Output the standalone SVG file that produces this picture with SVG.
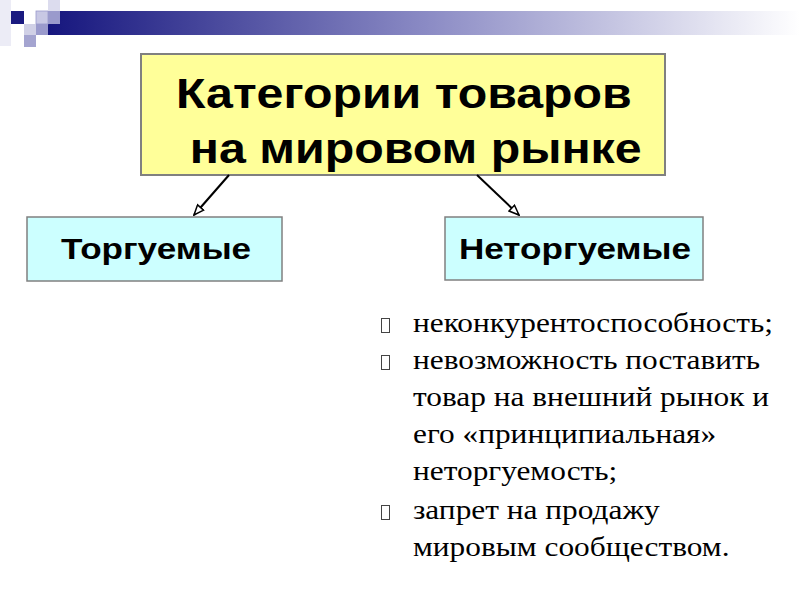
<svg xmlns="http://www.w3.org/2000/svg" width="800" height="600" viewBox="0 0 800 600">
<defs>
<linearGradient id="bar" x1="0" y1="0" x2="1" y2="0">
<stop offset="0" stop-color="#16167e"/>
<stop offset="0.5" stop-color="#8a8ac4"/>
<stop offset="1" stop-color="#ffffff"/>
</linearGradient>
<marker id="arr" viewBox="0 0 12 10" refX="11" refY="5" markerWidth="12" markerHeight="10" markerUnits="userSpaceOnUse" orient="auto">
<path d="M1,1 L11,5 L1,9 Z" fill="#ffffff" stroke="#000" stroke-width="1.5"/>
</marker>
<style>
.h{font-family:"Liberation Sans",Arial,sans-serif;font-weight:bold;fill:#000}
.b{font-family:"Liberation Serif","Times New Roman",serif;font-size:28px;fill:#000}
.tofu{fill:none;stroke:#444;stroke-width:1}
.conn{stroke:#000;stroke-width:2;fill:none}
</style>
</defs>
<rect width="800" height="600" fill="#fff"/>
<g id="decor">
<rect x="48" y="11" width="752" height="24" fill="url(#bar)"/>
<rect x="0" y="0" width="11" height="46" fill="#ececf6"/>
<rect x="11" y="11" width="13" height="13" fill="#1a1a80"/>
<rect x="36" y="11" width="12" height="13" fill="#c8c8e4" stroke="#9a9acc" stroke-width="0.8"/>
<rect x="48" y="0" width="12" height="11" fill="#dcdcee"/>
<rect x="48" y="11" width="12" height="13" fill="#9a9acc"/>
<rect x="24" y="24" width="12" height="11" fill="#d0d0e6"/>
<rect x="36" y="24" width="12" height="11" fill="#9a9acc"/>
<rect x="24" y="35" width="12" height="12" fill="#a4a4d0"/>
</g>
<g id="main">
<rect x="141" y="54" width="524" height="121" fill="#ffff99" stroke="#808080" stroke-width="2"/>
<g transform="translate(176,0) scale(1.15,1) translate(-176,0)">
<text class="h" x="176" y="108" font-size="42">Категории товаров</text>
<text class="h" x="188" y="163" font-size="42">на мировом рынке</text>
</g>
</g>
<g id="tradable">
<rect x="27" y="217" width="255" height="64" fill="#ccffff" stroke="#808080" stroke-width="1.5"/>
<text class="h" x="0" y="0" font-size="30" text-anchor="middle" transform="translate(156,259) scale(1.17,1)">Торгуемые</text>
</g>
<g id="nontradable">
<rect x="445" y="217" width="258" height="63" fill="#ccffff" stroke="#808080" stroke-width="1.5"/>
<text class="h" x="0" y="0" font-size="30" text-anchor="middle" transform="translate(575,259) scale(1.17,1)">Неторгуемые</text>
</g>
<g id="connectors">
<line class="conn" x1="229" y1="175" x2="194" y2="215" marker-end="url(#arr)"/>
<line class="conn" x1="477" y1="175" x2="519" y2="215" marker-end="url(#arr)"/>
</g>
<g id="list">
<rect class="tofu" x="381.5" y="318.5" width="8" height="14"/>
<rect class="tofu" x="381.5" y="355.5" width="8" height="14"/>
<rect class="tofu" x="381.5" y="505.5" width="8" height="14"/>
<g transform="translate(413,0) scale(1.12,1) translate(-413,0)">
<text class="b" x="413" y="332">неконкурентоспособность;</text>
<text class="b" x="413" y="369">невозможность поставить</text>
<text class="b" x="413" y="406">товар на внешний рынок и</text>
<text class="b" x="413" y="443">его «принципиальная»</text>
<text class="b" x="413" y="480">неторгуемость;</text>
<text class="b" x="413" y="519">запрет на продажу</text>
<text class="b" x="413" y="556">мировым сообществом.</text>
</g>
</g>
</svg>
